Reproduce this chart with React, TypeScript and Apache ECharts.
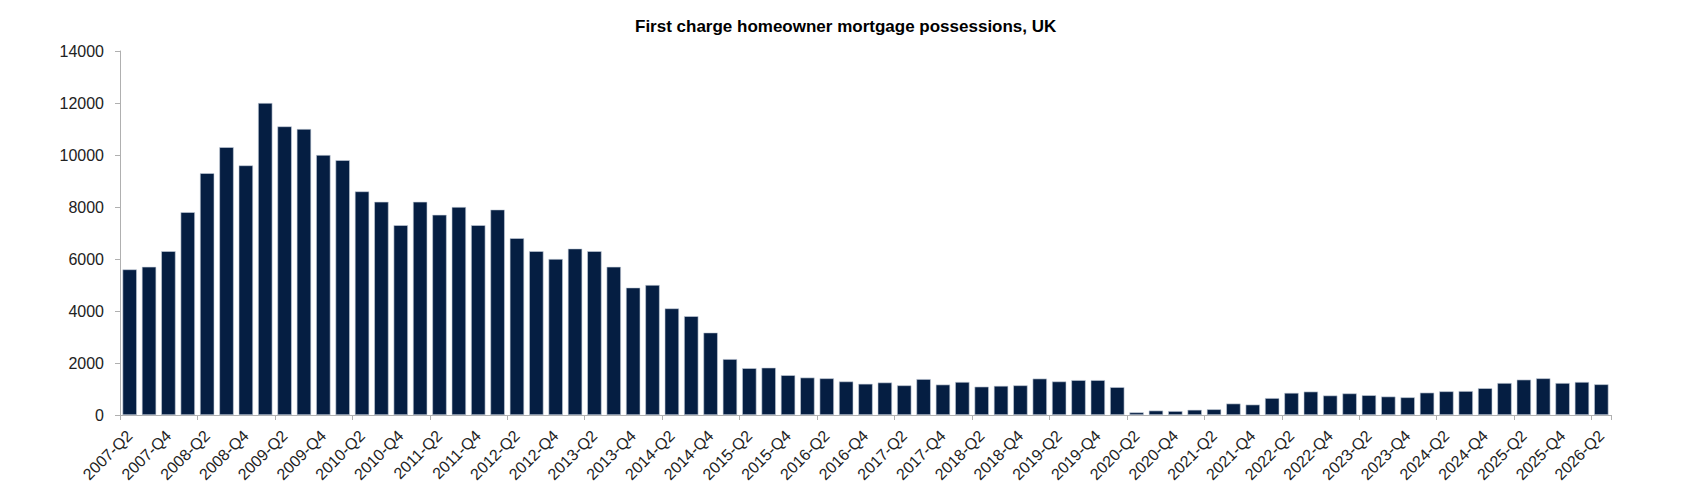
import React, { useEffect, useRef } from "react";
import * as echarts from "echarts";

const TITLE = "First charge homeowner mortgage possessions, UK";

const categories: string[] = [
  "2007-Q2", "2007-Q3", "2007-Q4",
  "2008-Q1", "2008-Q2", "2008-Q3", "2008-Q4",
  "2009-Q1", "2009-Q2", "2009-Q3", "2009-Q4",
  "2010-Q1", "2010-Q2", "2010-Q3", "2010-Q4",
  "2011-Q1", "2011-Q2", "2011-Q3", "2011-Q4",
  "2012-Q1", "2012-Q2", "2012-Q3", "2012-Q4",
  "2013-Q1", "2013-Q2", "2013-Q3", "2013-Q4",
  "2014-Q1", "2014-Q2", "2014-Q3", "2014-Q4",
  "2015-Q1", "2015-Q2", "2015-Q3", "2015-Q4",
  "2016-Q1", "2016-Q2", "2016-Q3", "2016-Q4",
  "2017-Q1", "2017-Q2", "2017-Q3", "2017-Q4",
  "2018-Q1", "2018-Q2", "2018-Q3", "2018-Q4",
  "2019-Q1", "2019-Q2", "2019-Q3", "2019-Q4",
  "2020-Q1", "2020-Q2", "2020-Q3", "2020-Q4",
  "2021-Q1", "2021-Q2", "2021-Q3", "2021-Q4",
  "2022-Q1", "2022-Q2", "2022-Q3", "2022-Q4",
  "2023-Q1", "2023-Q2", "2023-Q3", "2023-Q4",
  "2024-Q1", "2024-Q2", "2024-Q3", "2024-Q4",
  "2025-Q1", "2025-Q2", "2025-Q3", "2025-Q4",
  "2026-Q1", "2026-Q2",
];

const possessions: number[] = [
  5600, 5700, 6300,
  7800, 9300, 10300, 9600,
  12000, 11100, 11000, 10000,
  9800, 8600, 8200, 7300,
  8200, 7700, 8000, 7300,
  7900, 6800, 6300, 6000,
  6400, 6300, 5700, 4900,
  5000, 4100, 3800, 3170,
  2150, 1800, 1820, 1530,
  1440, 1410, 1290, 1200,
  1250, 1140, 1380, 1170,
  1270, 1090, 1120, 1140,
  1400, 1290, 1340, 1340,
  1070, 100, 170, 150,
  200, 220, 440, 400,
  650, 850, 900, 750,
  830, 760, 710, 680,
  860, 910, 920, 1030,
  1230, 1360, 1410, 1230,
  1270, 1180,
];

const yTicks = { min: 0, max: 14000, interval: 2000 };

const FONT = "'Liberation Sans', Arial, sans-serif";

export default function App() {
  const ref = useRef<HTMLDivElement>(null);

  useEffect(() => {
    if (!ref.current) return;
    const chart = echarts.init(ref.current, null, { renderer: "svg" });
    chart.setOption({
      animation: false,
      backgroundColor: "#ffffff",
      title: {
        text: TITLE,
        left: 622,
        top: 5,
        textStyle: {
          fontFamily: FONT,
          fontSize: 17,
          fontWeight: "bold",
          color: "#000000",
        },
      },
      grid: { left: 112, right: 81, top: 43, bottom: 93, containLabel: false },
      xAxis: {
        type: "category",
        data: categories,
        boundaryGap: true,
        axisLine: { show: true, lineStyle: { color: "#b0b0b0", width: 1 } },
        axisTick: { show: true, interval: 3, length: 5, lineStyle: { color: "#b0b0b0" } },
        axisLabel: {
          interval: 1,
          rotate: 45,
          margin: 18,
          fontFamily: FONT,
          fontSize: 16,
          color: "#222222",
        },
        splitLine: { show: false },
      },
      yAxis: {
        type: "value",
        min: yTicks.min,
        max: yTicks.max,
        interval: yTicks.interval,
        axisLine: { show: true, lineStyle: { color: "#b0b0b0", width: 1 } },
        axisTick: { show: true, length: 5, lineStyle: { color: "#b0b0b0" } },
        axisLabel: {
          margin: 16,
          fontFamily: FONT,
          fontSize: 16,
          color: "#222222",
          formatter: (v: number) => String(v),
        },
        splitLine: { show: false },
      },
      series: [
        {
          type: "bar",
          data: possessions,
          barCategoryGap: "26%",
          itemStyle: {
            color: "#051e42",
            borderColor: "#c8d0dc",
            borderWidth: 0.6,
          },
        },
      ],
    });
    return () => chart.dispose();
  }, []);

  return <div ref={ref} style={{ width: 1684, height: 500 }} />;
}
